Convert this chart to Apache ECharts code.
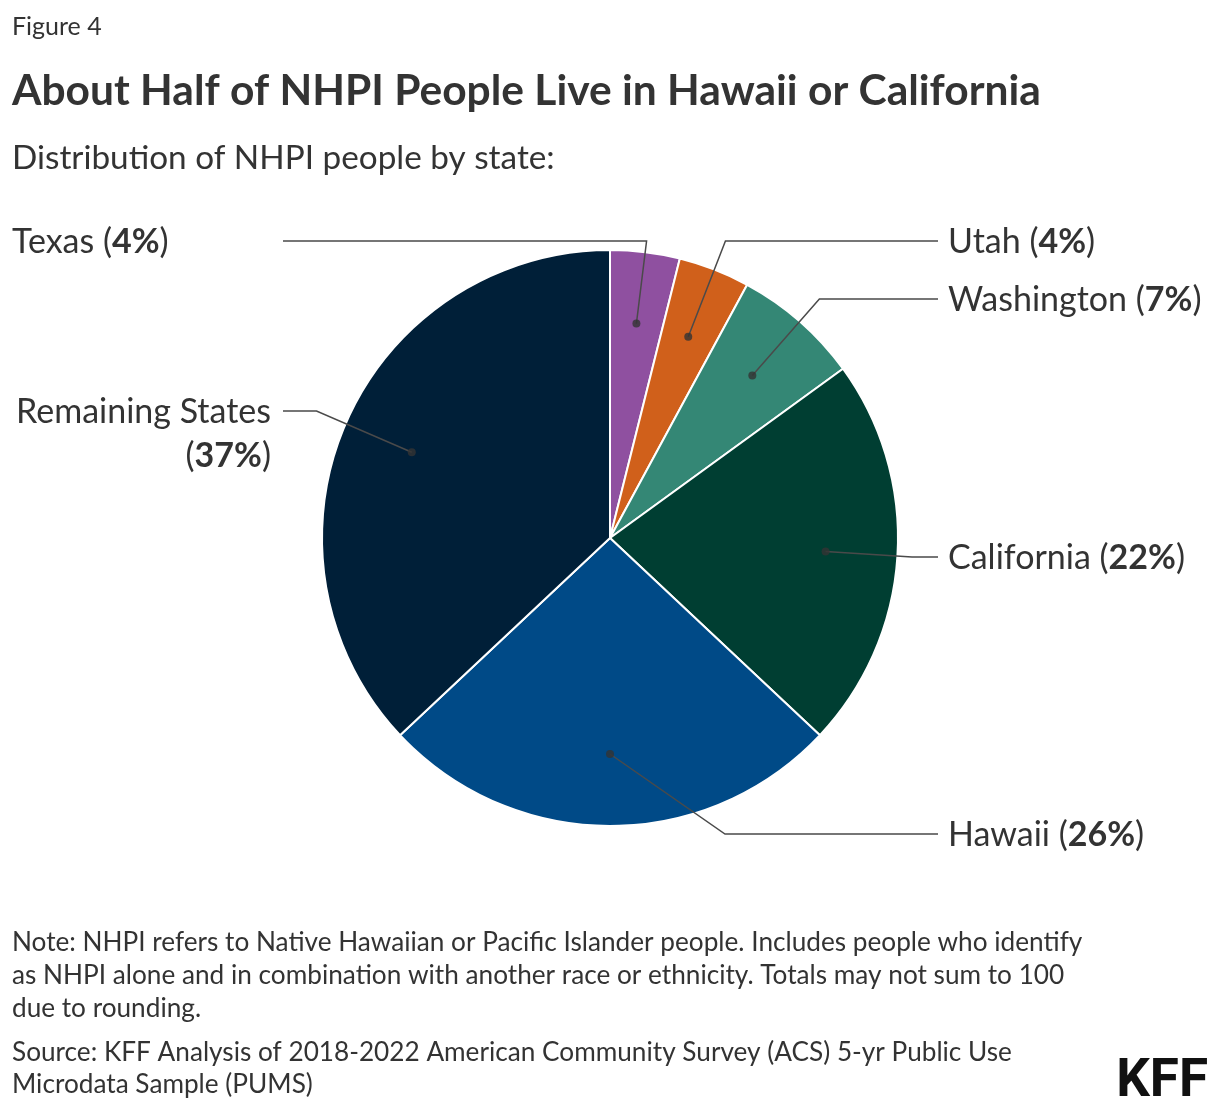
<!DOCTYPE html>
<html><head><meta charset="utf-8">
<script src="https://cdn.jsdelivr.net/npm/echarts@6/dist/echarts.min.js"></script>
<style>html,body{margin:0;padding:0;background:#fff}#c{width:1220px;height:1114px}</style>
</head><body><div id="c"></div>
<script>
// ---- data ----
const states = ['Texas', 'Utah', 'Washington', 'California', 'Hawaii', 'Remaining States'];
const shares = [3.9, 4.0, 7.1, 22.0, 26.0, 37.0];
const shareLabels = ['4%', '4%', '7%', '22%', '26%', '37%'];
const sliceColors = ['#8f50a0', '#d0601b', '#348775', '#003e32', '#004a87', '#001f38'];

// ---- layout (label placement) ----
const FONT = 'Lato, "Noto Sans", sans-serif';
const TXT = '#333333';
const CENTER = [610, 538];
const RADIUS = 288;
const DOT_RADIUS = 216;
const LEFT_END = 283, RIGHT_END = 938;
const LABEL_SIZE = 34;
const placement = [
  { side: 'left',  lineY: 241, textX: 12,  textY: 242, align: 'left',  vAlign: 'middle' },
  { side: 'right', lineY: 241, textX: 948, textY: 242, align: 'left',  vAlign: 'middle' },
  { side: 'right', lineY: 299, textX: 948, textY: 300, align: 'left',  vAlign: 'middle' },
  { side: 'right', lineY: 557, textX: 948, textY: 558, align: 'left',  vAlign: 'middle' },
  { side: 'right', lineY: 834, textX: 948, textY: 835, align: 'left',  vAlign: 'middle', elbowX: 725 },
  { side: 'left',  lineY: 411, textX: 271, textY: 390, align: 'right', vAlign: 'top' }
];

const total = shares.reduce((a, b) => a + b, 0);
const mids = [];
let acc = 0;
shares.forEach(v => { mids.push(acc + v / 2); acc += v; });

const chart = echarts.init(document.getElementById('c'), null, { renderer: 'canvas' });

function labelText(i) {
  const name = states[i];
  if (name === 'Remaining States') {
    return '{n|Remaining States}\n{n|(}{b|' + shareLabels[i] + '}{n|)}';
  }
  return '{n|' + name + ' (}{b|' + shareLabels[i] + '}{n|)}';
}

const textEl = (text, x, y, size, weight, align) => ({
  type: 'text', silent: true,
  style: { text: text, x: x, y: y, fill: TXT, font: (weight || 'normal') + ' ' + size + 'px ' + FONT,
           textAlign: align || 'left', textVerticalAlign: 'middle' }
});

chart.setOption({
  animation: false,
  backgroundColor: '#ffffff',
  polar: { center: CENTER, radius: DOT_RADIUS },
  angleAxis: { type: 'value', min: 0, max: total, startAngle: 90, clockwise: true, show: false },
  radiusAxis: { type: 'value', min: 0, max: 1, show: false },
  graphic: [
    textEl('Figure 4', 12, 27, 25),
    textEl('About Half of NHPI People Live in Hawaii or California', 12, 91, 42.5, 'bold'),
    textEl('Distribution of NHPI people by state:', 12, 158, 33.3),
    textEl('Note: NHPI refers to Native Hawaiian or Pacific Islander people. Includes people who identify', 12, 943, 26.2),
    textEl('as NHPI alone and in combination with another race or ethnicity. Totals may not sum to 100', 12, 976, 26.2),
    textEl('due to rounding.', 12, 1009, 26.2),
    textEl('Source: KFF Analysis of 2018-2022 American Community Survey (ACS) 5-yr Public Use', 12, 1053, 26.2),
    textEl('Microdata Sample (PUMS)', 12, 1085, 26.2),
    {
      type: 'text', silent: true,
      style: { text: 'KFF', x: 1208, y: 1083, fill: '#111111', font: 'bold 53px "Liberation Sans Narrow", "Roboto", sans-serif',
               textAlign: 'right', textVerticalAlign: 'middle' }
    }
  ],
  series: [
    {
      type: 'pie',
      center: CENTER,
      radius: [0, RADIUS],
      startAngle: 90,
      clockwise: true,
      silent: true,
      avoidLabelOverlap: false,
      label: { show: false },
      labelLine: { show: false },
      itemStyle: { borderColor: '#ffffff', borderWidth: 2 },
      data: states.map((s, i) => ({ name: s, value: shares[i], itemStyle: { color: sliceColors[i] } }))
    },
    {
      type: 'pie',
      center: CENTER,
      radius: [0, DOT_RADIUS],
      startAngle: 90,
      clockwise: true,
      silent: true,
      z: 3,
      avoidLabelOverlap: false,
      itemStyle: { color: 'rgba(0,0,0,0)', borderWidth: 0 },
      label: {
        show: true,
        position: 'outside',
        color: TXT,
        formatter: p => labelText(p.dataIndex),
        rich: {
          n: { fontFamily: FONT, fontSize: LABEL_SIZE, color: TXT, lineHeight: 44 },
          b: { fontFamily: FONT, fontSize: LABEL_SIZE, fontWeight: 'bold', color: TXT, lineHeight: 44 }
        }
      },
      labelLine: { show: true, length: 20, length2: 20, lineStyle: { color: '#4a4a4a', width: 1.5 } },
      labelLayout: function (p) {
        const cfg = placement[p.dataIndex];
        const pts = p.labelLinePoints;
        const p0 = pts[0], p1 = pts[1];
        let elbow;
        if (cfg.elbowX != null) {
          elbow = [cfg.elbowX, cfg.lineY];
        } else {
          const dx = p1[0] - p0[0], dy = p1[1] - p0[1];
          const t = (cfg.lineY - p0[1]) / dy;
          elbow = [p0[0] + t * dx, cfg.lineY];
        }
        const endX = cfg.side === 'left' ? LEFT_END : RIGHT_END;
        return {
          x: cfg.textX, y: cfg.textY, align: cfg.align, verticalAlign: cfg.vAlign,
          labelLinePoints: [p0, elbow, [endX, cfg.lineY]]
        };
      },
      data: states.map((s, i) => ({ name: s, value: shares[i] }))
    },
    {
      type: 'scatter',
      coordinateSystem: 'polar',
      silent: true,
      z: 5,
      symbol: 'circle',
      symbolSize: 8,
      itemStyle: { color: '#333333' },
      data: mids.map(m => [1, m])
    }
  ]
});
</script></body></html>
